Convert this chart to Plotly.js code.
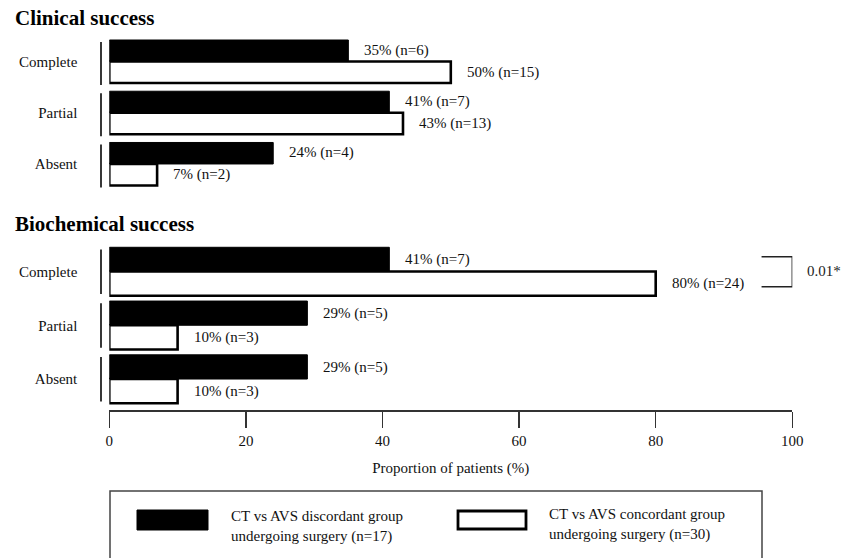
<!DOCTYPE html>
<html>
<head>
<meta charset="utf-8">
<script src="https://cdn.plot.ly/plotly-3.0.1.min.js"></script>
<style>html,body{margin:0;padding:0;background:#fff;}#chart{width:853px;height:558px;}</style>
</head>
<body>
<div id="chart"></div>
<script>
// ---- data ----
const categories = ['Complete', 'Partial', 'Absent'];
const clinDiscPct = [35, 41, 24];
const clinDiscN = [6, 7, 4];
const clinConcPct = [50, 43, 7];
const clinConcN = [15, 13, 2];
const bioDiscPct = [41, 29, 29];
const bioDiscN = [7, 5, 5];
const bioConcPct = [80, 10, 10];
const bioConcN = [24, 3, 3];
const xTicks = [0, 20, 40, 60, 80, 100];
const seriesNames = ['CT vs AVS discordant group<br>undergoing surgery (n=17)',
                     'CT vs AVS concordant group<br>undergoing surgery (n=30)'];
const panelTitles = ['Clinical success', 'Biochemical success'];
const pValue = '0.01*';
const xTitle = 'Proportion of patients (%)';

// ---- helpers ----
const W = 853, H = 558;
const px = v => v / W;
const py = v => 1 - v / H;
const FONT = 'Liberation Serif, Times New Roman, serif';
const INK = '#111';

const topW = 0.42, botW = 0.45;

function barTrace(pcts, yaxis, filled, w) {
  return {
    type: 'bar', orientation: 'h', y: categories, x: pcts,
    xaxis: 'x', yaxis: yaxis,
    width: w, offset: filled ? -w : 0,
    marker: { color: filled ? '#000' : '#fff', line: { color: '#000', width: filled ? 1 : 2.6 } },
    showlegend: false, hoverinfo: 'skip'
  };
}

const data = [
  barTrace(clinDiscPct, 'y', true, topW),
  barTrace(clinConcPct, 'y', false, topW),
  barTrace(bioDiscPct, 'y2', true, botW),
  barTrace(bioConcPct, 'y2', false, botW)
];

const annotations = [];
function labels(pcts, ns, yref, up, shift) {
  pcts.forEach((p, i) => {
    annotations.push({
      x: p, y: categories[i], xref: 'x', yref: yref,
      text: p + '% (n=' + ns[i] + ')', showarrow: false,
      xanchor: 'left', yanchor: 'middle', xshift: 14, yshift: up ? shift : -shift,
      font: { family: FONT, size: 15, color: INK }
    });
  });
}
labels(clinDiscPct, clinDiscN, 'y', true, 11);
labels(clinConcPct, clinConcN, 'y', false, 11);
labels(bioDiscPct, bioDiscN, 'y2', true, 12);
labels(bioConcPct, bioConcN, 'y2', false, 12);

// panel titles
[[panelTitles[0], 17.5], [panelTitles[1], 224.5]].forEach(([t, yy]) => {
  annotations.push({
    x: px(13), y: py(yy), xref: 'paper', yref: 'paper', text: '<b>' + t + '</b>',
    showarrow: false, xanchor: 'left', yanchor: 'middle',
    font: { family: FONT, size: 21, color: '#000' }
  });
});

// p-value
annotations.push({
  x: 100, y: py(271), xref: 'x', yref: 'paper', text: pValue, showarrow: false,
  xanchor: 'left', yanchor: 'middle', xshift: 13,
  font: { family: FONT, size: 15, color: '#222' }
});

// legend texts
annotations.push({
  x: px(229), y: py(526), xref: 'paper', yref: 'paper', text: seriesNames[0],
  showarrow: false, xanchor: 'left', yanchor: 'middle', align: 'left',
  font: { family: FONT, size: 15, color: INK }
});
annotations.push({
  x: px(547), y: py(524.5), xref: 'paper', yref: 'paper', text: seriesNames[1],
  showarrow: false, xanchor: 'left', yanchor: 'middle', align: 'left',
  font: { family: FONT, size: 15, color: INK }
});

const shapes = [];
// vertical category separators at left
categories.forEach((c, i) => {
  shapes.push({ type: 'line', xref: 'paper', yref: 'y', x0: px(101), x1: px(101),
    y0: i - 0.38, y1: i + 0.46, line: { color: '#222', width: 1.8 } });
  shapes.push({ type: 'line', xref: 'paper', yref: 'y2', x0: px(101), x1: px(101),
    y0: i - 0.41, y1: i + 0.42, line: { color: '#222', width: 1.8 } });
});
// significance bracket
shapes.push({ type: 'path', xref: 'x', yref: 'paper',
  path: 'M 95.5,' + py(256.7) + ' L 100,' + py(256.7) + ' L 100,' + py(286.7) + ' L 95.5,' + py(286.7),
  line: { color: '#222', width: 1.5 } });
// legend box
shapes.push({ type: 'rect', xref: 'paper', yref: 'paper', x0: px(110), x1: px(762), y0: py(491), y1: -0.02,
  line: { color: '#444', width: 1.5 }, fillcolor: 'rgba(0,0,0,0)' });
// legend swatches
shapes.push({ type: 'rect', xref: 'paper', yref: 'paper', x0: px(137), x1: px(208), y0: py(510), y1: py(530),
  line: { color: '#000', width: 1 }, fillcolor: '#000' });
shapes.push({ type: 'rect', xref: 'paper', yref: 'paper', x0: px(458), x1: px(526), y0: py(511), y1: py(529),
  line: { color: '#000', width: 2.8 }, fillcolor: '#fff' });

const yCommon = {
  type: 'category', categoryarray: categories, categoryorder: 'array',
  range: [2.5, -0.5], showgrid: false, zeroline: false, showline: false,
  ticks: '', ticklabelstandoff: 31, fixedrange: true,
  tickfont: { family: FONT, size: 15, color: INK }
};

const layout = {
  width: W, height: H,
  margin: { l: 0, r: 0, t: 0, b: 0 },
  paper_bgcolor: '#fff', plot_bgcolor: 'rgba(0,0,0,0)',
  showlegend: false,
  barmode: 'overlay',
  font: { family: FONT, color: INK },
  xaxis: {
    domain: [px(109.3), px(792.3)], range: [0, 100],
    tickmode: 'array', tickvals: xTicks, ticktext: xTicks.map(String),
    ticks: 'outside', ticklen: 16, tickwidth: 1.5, tickcolor: '#333',
    showline: true, linecolor: '#333', linewidth: 1.5,
    showgrid: false, zeroline: false, fixedrange: true,
    anchor: 'free', position: py(410),
    tickfont: { family: FONT, size: 15, color: INK },
    title: { text: xTitle, standoff: 15, font: { family: FONT, size: 15, color: INK } }
  },
  yaxis: Object.assign({}, yCommon, { domain: [py(189.6), py(35.9)], anchor: 'x' }),
  yaxis2: Object.assign({}, yCommon, { domain: [py(405.9), py(244.6)], anchor: 'x' }),
  annotations: annotations,
  shapes: shapes
};

Plotly.newPlot('chart', data, layout, { displayModeBar: false, staticPlot: true });
</script>
</body>
</html>
